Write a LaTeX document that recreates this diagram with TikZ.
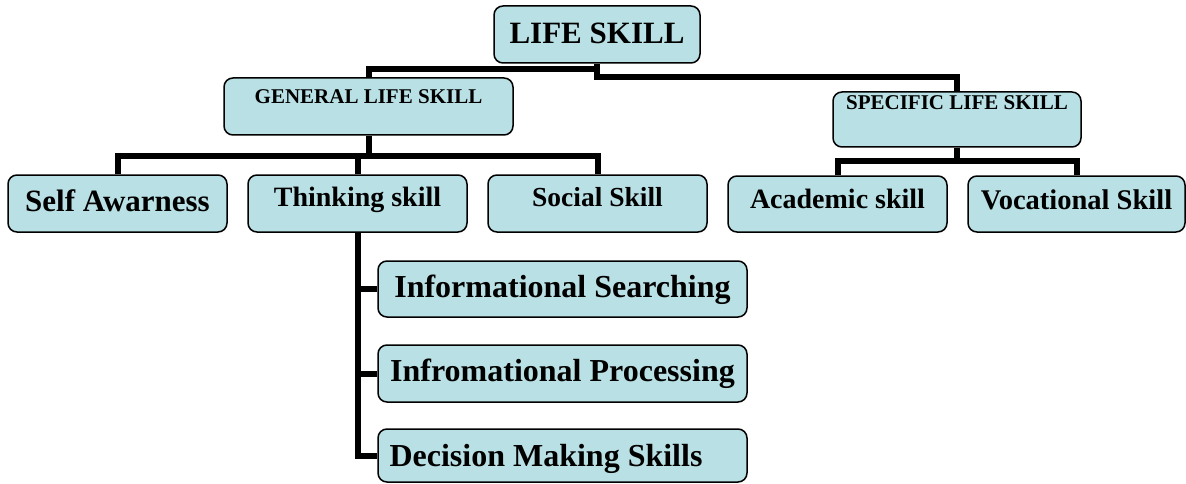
\documentclass[tikz,border=0pt]{standalone}
\usepackage{fontspec}
\setmainfont{Liberation Serif}
\definecolor{boxfill}{RGB}{185,224,228}
\begin{document}
\begin{tikzpicture}[x=1pt,y=-1pt,
  box/.style={draw=black, line width=1.5pt, fill=boxfill, rounded corners=9pt, inner sep=0pt},
  txt/.style={anchor=base, inner sep=0pt, font=\bfseries},
  conn/.style={line width=6pt, draw=black, line join=miter}]
\useasboundingbox (0,0) rectangle (1186,484);
\coordinate (j1a) at (597,69);
\coordinate (j1b) at (597,77);
\coordinate (j2) at (368.5,156);
\coordinate (j3) at (957,161);
% boxes
\node[box, minimum width=206, minimum height=57] (life) at (597,34.5) {};
\node[box, minimum width=289, minimum height=57] (gen) at (368.5,106.5) {};
\node[box, minimum width=248, minimum height=55] (spec) at (957,119.5) {};
\node[box, minimum width=219, minimum height=57] (self) at (117.5,203.5) {};
\node[box, minimum width=219, minimum height=57] (think) at (357.5,203.5) {};
\node[box, minimum width=219, minimum height=57] (social) at (597.5,203.5) {};
\node[box, minimum width=219, minimum height=56] (acad) at (837.5,204) {};
\node[box, minimum width=217, minimum height=56] (voc) at (1076.5,204) {};
\node[box, minimum width=369, minimum height=56] (srch) at (562.5,289) {};
\node[box, minimum width=369, minimum height=57] (proc) at (562.5,373.5) {};
\node[box, minimum width=369, minimum height=53] (dec) at (562.5,455.5) {};
% texts
\node[txt, font=\bfseries\fontsize{31}{31}\selectfont] (lifet) at (597,43.3) {LIFE SKILL};
\node[txt, font=\bfseries\fontsize{21}{21}\selectfont] (gent) at (368.5,104) {GENERAL LIFE SKILL};
\node[txt, font=\bfseries\fontsize{21}{21}\selectfont] (spect) at (957,109.3) {SPECIFIC LIFE SKILL};
\node[txt, font=\bfseries\fontsize{31}{31}\selectfont] (selft) at (117.5,211.7) {Self Awarness};
\node[txt, font=\bfseries\fontsize{28}{28}\selectfont] (thinkt) at (357.5,206.7) {Thinking skill};
\node[txt, font=\bfseries\fontsize{27.5}{27.5}\selectfont] (socialt) at (597.5,206.7) {Social Skill};
\node[txt, font=\bfseries\fontsize{28}{28}\selectfont] (acadt) at (837.5,208.3) {Academic skill};
\node[txt, font=\bfseries\fontsize{28.5}{28.5}\selectfont] (voct) at (1076.5,209) {Vocational Skill};
\node[txt, font=\bfseries\fontsize{32}{32}\selectfont] (srcht) at (562.5,297.3) {Informational Searching};
\node[txt, font=\bfseries\fontsize{32}{32}\selectfont] (proct) at (562.5,381.7) {Infromational Processing};
\node[txt, font=\bfseries\fontsize{32}{32}\selectfont] (dect) at (546,466.7) {Decision Making Skills};
% connectors
\draw[conn] (life.south) -- (j1b) -| (spec.north);
\draw[conn] (gen.north) |- (j1a);
\draw[conn] (gen.south) -- (j2);
\draw[conn] (self.north) |- (j2) -| (social.north);
\draw[conn] (think.north) -- (think.north |- j2);
\draw[conn] (spec.south) -- (j3);
\draw[conn] (acad.north) |- (j3) -| (voc.north);
\draw[conn] (think.south) |- (dec.west);
\draw[conn] (srch.west) -- (srch.west -| think.south);
\draw[conn] (proc.west) -- (proc.west -| think.south);
\end{tikzpicture}
\end{document}
